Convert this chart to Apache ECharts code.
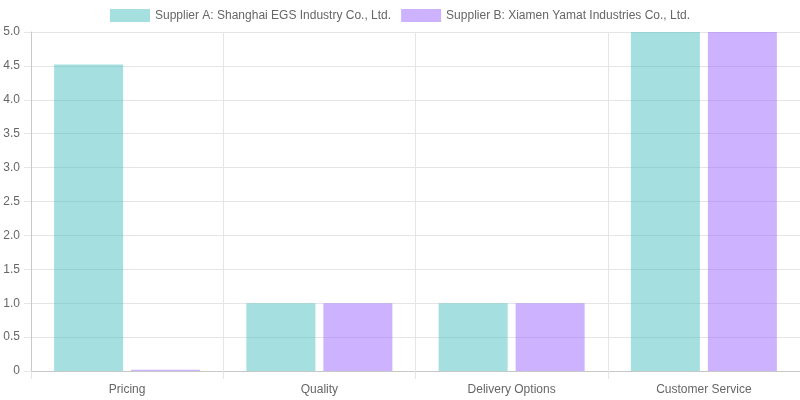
<!DOCTYPE html>
<html>
<head>
<meta charset="utf-8">
<script src="https://cdn.jsdelivr.net/npm/echarts@6/dist/echarts.min.js"></script>
<style>
  html, body { margin: 0; padding: 0; background: #fff; }
  #chart { width: 800px; height: 400px; }
</style>
</head>
<body>
<div id="chart"></div>
<script>
const categories = ["Pricing", "Quality", "Delivery Options", "Customer Service"];
const supplierA = [4.52, 1, 1, 5];
const supplierB = [0.02, 1, 1, 5];
const seriesNames = [
  "Supplier A: Shanghai EGS Industry Co., Ltd.",
  "Supplier B: Xiamen Yamat Industries Co., Ltd."
];

const chart = echarts.init(document.getElementById("chart"));

const FONT = "Liberation Sans, Arial, sans-serif";

chart.setOption({
  animation: false,
  textStyle: { fontFamily: FONT },
  legend: {
    top: 4,
    icon: "rect",
    itemWidth: 40,
    itemHeight: 13,
    itemGap: 10,
    textStyle: { color: "#666", fontSize: 12, fontFamily: FONT },
    data: seriesNames
  },
  grid: { left: 31, right: 0, top: 32, bottom: 29 },
  xAxis: {
    type: "category",
    data: categories,
    axisLine: { lineStyle: { color: "#c8c8c8" } },
    axisTick: { show: true, length: 8, lineStyle: { color: "#e5e5e5" } },
    axisLabel: { color: "#666", fontSize: 12, margin: 13, fontFamily: FONT },
    splitLine: { show: true, lineStyle: { color: "#e5e5e5" } }
  },
  yAxis: {
    type: "value",
    min: 0,
    max: 5,
    interval: 0.5,
    axisLine: { show: true, lineStyle: { color: "#c8c8c8" } },
    axisTick: { show: true, length: 7, lineStyle: { color: "#e5e5e5" } },
    axisLabel: {
      color: "#666",
      fontSize: 12,
      margin: 11,
      padding: [3, 0, 0, 0],
      fontFamily: FONT,
      formatter: (v) => (v === 0 ? "0" : v.toFixed(1))
    },
    splitLine: { show: true, lineStyle: { color: "#e5e5e5" } }
  },
  series: [
    {
      name: seriesNames[0],
      type: "bar",
      data: supplierA,
      barWidth: 69,
      barGap: "11.6%",
      itemStyle: { color: "rgba(75,192,192,0.5)" }
    },
    {
      name: seriesNames[1],
      type: "bar",
      data: supplierB,
      barWidth: 69,
      itemStyle: { color: "rgba(153,102,255,0.5)" }
    }
  ]
});
</script>
</body>
</html>
